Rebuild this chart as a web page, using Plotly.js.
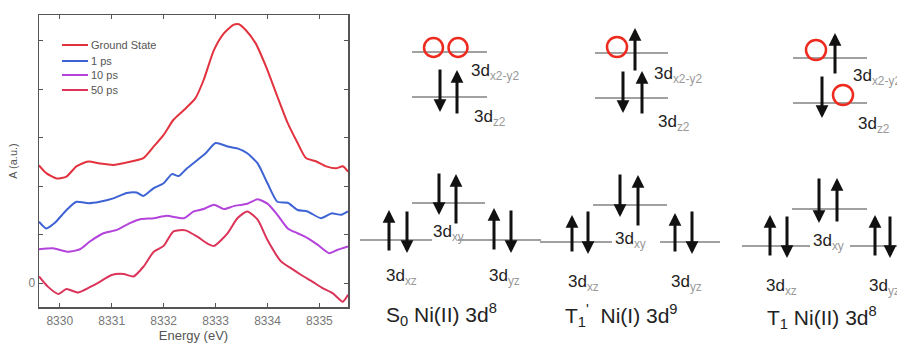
<!DOCTYPE html>
<html>
<head>
<meta charset="utf-8">
<script src="https://cdn.plot.ly/plotly-3.0.1.min.js"></script>
<style>html,body{margin:0;padding:0;background:#fff;}#chart{width:897px;height:344px;}</style>
</head>
<body>
<div id="chart"></div>
<script>
// ---- Spectra data (Energy in eV, absorbance offset, a.u.) ----
const seriesNames = ["Ground State", "1 ps", "10 ps", "50 ps"];
const seriesColors = ["#e2323e", "#3d62d4", "#b443dc", "#dc3458"];

const gsX = [8329.6, 8329.74, 8329.94, 8330.13, 8330.32, 8330.55, 8330.77, 8331.03, 8331.29, 8331.61, 8331.81, 8332.0, 8332.19, 8332.39, 8332.61, 8332.77, 8332.97, 8333.16, 8333.35, 8333.45, 8333.58, 8333.77, 8333.97, 8334.19, 8334.39, 8334.58, 8334.74, 8334.94, 8335.13, 8335.32, 8335.45, 8335.55];
const gsY = [2.43, 2.27, 2.16, 2.20, 2.41, 2.51, 2.47, 2.44, 2.49, 2.58, 2.82, 3.06, 3.37, 3.57, 3.81, 4.19, 4.81, 5.15, 5.33, 5.34, 5.22, 4.95, 4.47, 3.85, 3.30, 2.89, 2.58, 2.51, 2.41, 2.37, 2.41, 2.30];

const ps1X = [8329.6, 8329.74, 8329.9, 8330.13, 8330.32, 8330.55, 8330.77, 8331.03, 8331.29, 8331.48, 8331.61, 8331.81, 8332.0, 8332.16, 8332.29, 8332.45, 8332.65, 8332.81, 8333.0, 8333.23, 8333.42, 8333.61, 8333.81, 8334.0, 8334.19, 8334.39, 8334.58, 8334.77, 8335.03, 8335.23, 8335.42, 8335.55];
const ps1Y = [1.27, 1.13, 1.24, 1.51, 1.68, 1.65, 1.68, 1.75, 1.86, 1.87, 1.80, 1.96, 2.06, 2.25, 2.21, 2.37, 2.54, 2.68, 2.89, 2.82, 2.78, 2.68, 2.47, 2.06, 1.68, 1.66, 1.51, 1.48, 1.34, 1.44, 1.41, 1.48];

const ps10X = [8329.6, 8329.87, 8330.16, 8330.39, 8330.58, 8330.84, 8331.1, 8331.35, 8331.55, 8331.81, 8332.06, 8332.39, 8332.58, 8332.77, 8332.97, 8333.16, 8333.35, 8333.61, 8333.81, 8334.0, 8334.19, 8334.39, 8334.58, 8334.77, 8334.97, 8335.19, 8335.35, 8335.55];
const ps10Y = [0.70, 0.72, 0.65, 0.70, 0.86, 1.03, 1.10, 1.24, 1.32, 1.34, 1.39, 1.34, 1.48, 1.53, 1.62, 1.53, 1.59, 1.64, 1.73, 1.64, 1.41, 1.13, 1.03, 0.93, 0.79, 0.62, 0.69, 0.76];

const ps50X = [8329.6, 8329.77, 8329.97, 8330.13, 8330.35, 8330.58, 8330.77, 8331.0, 8331.23, 8331.42, 8331.61, 8331.81, 8332.0, 8332.19, 8332.42, 8332.65, 8332.84, 8332.97, 8333.23, 8333.42, 8333.61, 8333.81, 8334.0, 8334.26, 8334.45, 8334.65, 8334.87, 8335.06, 8335.26, 8335.45, 8335.55];
const ps50Y = [0.14, -0.07, -0.22, -0.12, -0.19, -0.08, 0.03, 0.17, 0.19, 0.14, 0.34, 0.65, 0.77, 1.07, 1.09, 0.96, 0.82, 0.77, 1.03, 1.34, 1.48, 1.31, 0.89, 0.45, 0.31, 0.17, 0.03, -0.10, -0.21, -0.38, -0.24];

const xTickVals = [8330, 8331, 8332, 8333, 8334, 8335];
const yTickVals = [0, 1, 2, 3, 4, 5];
const yTickText = ["0", "", "", "", "", ""];

// ---- Orbital diagram text ----
const diagramTitles = ["S<sub>0</sub> Ni(II) 3d<sup>8</sup>", "T<sub>1</sub><sup>'</sup>  Ni(I) 3d<sup>9</sup>", "T<sub>1</sub> Ni(II) 3d<sup>8</sup>"];
const orbitalSubs = ["x2-y2", "z2", "xy", "xz", "yz"];

// ---- Diagram geometry (pixel space of the figure) ----
const levels = [
  [412,487,52],[412,487,97],[412,485,203],[360,432,240],[458,541,240],
  [595,668,53],[595,668,98],[593,667,205],[540,612,242],[660,720,242],
  [793,867,58],[793,867,103],[792,867,209],[742,810,246],[850,897,246]
];
const arrows = [ // x, tail y, head y
  [440,68,112],[457,115,70],[439,172,215],[456,225,174],[389,252,210],[407,210,253],[494,251,208],[511,209,253],
  [635,72,28],[623,70,113],[642,115,71],[620,173,217],[638,227,175],[572,253,215],[588,210,254],[675,253,213],[692,210,254],
  [835,75,33],[822,75,118],[819,177,223],[837,223,178],[770,257,215],[787,215,258],[875,257,215],[890,215,258]
];
const holes = [[433.5,47.5,9.5],[458,47.5,9.5],[617,47,10],[816,50,10],[843,95,10]];
const labelPos = [
  [[469,72],[472,118],[431,233],[384,277],[487,277]],
  [[652,75],[656,123],[613,240],[566,283],[669,283]],
  [[851,77],[856,125],[811,242],[764,287],[867,287]]
];
const titlePos = [[384,314],[563,315],[765,317]];

const W = 897, H = 344;
const FONT = "Liberation Sans, Arial, sans-serif";

const traces = [
  {x: gsX, y: gsY}, {x: ps1X, y: ps1Y}, {x: ps10X, y: ps10Y}, {x: ps50X, y: ps50Y}
].map((d, i) => ({
  type: "scatter", mode: "lines", x: d.x, y: d.y, name: seriesNames[i],
  line: {color: seriesColors[i], width: 2, shape: "spline", smoothing: 0.6},
  xaxis: "x", yaxis: "y", showlegend: false
}));
traces.push({type: "scatter", x: [0], y: [0], xaxis: "x2", yaxis: "y2", mode: "markers",
  marker: {opacity: 0}, hoverinfo: "skip", showlegend: false});

const shapes = [];
const annotations = [];

// manual legend (tight spacing like the original)
const legY = [45, 61, 75, 90];
seriesNames.forEach((n, i) => {
  shapes.push({type: "line", xref: "x2", yref: "y2", x0: 62, x1: 88, y0: legY[i], y1: legY[i],
    line: {color: seriesColors[i], width: 2}});
  annotations.push({xref: "x2", yref: "y2", x: 89, y: legY[i], text: n, showarrow: false,
    xanchor: "left", yanchor: "middle", font: {family: FONT, size: 11, color: "#555"}});
});

levels.forEach(l => shapes.push({type: "line", xref: "x2", yref: "y2", x0: l[0], x1: l[1], y0: l[2], y1: l[2],
  line: {color: "#444", width: 1.2}}));
holes.forEach(c => shapes.push({type: "circle", xref: "x2", yref: "y2", x0: c[0]-c[2], x1: c[0]+c[2],
  y0: c[1]-c[2], y1: c[1]+c[2], line: {color: "#ee2a1e", width: 2.5}}));
arrows.forEach(a => annotations.push({xref: "x2", yref: "y2", axref: "x2", ayref: "y2",
  x: a[0], y: a[2], ax: a[0], ay: a[1], text: "", showarrow: true,
  arrowhead: 2, arrowsize: 0.85, arrowwidth: 3, arrowcolor: "#111", standoff: 0, startstandoff: 0}));
labelPos.forEach(d => d.forEach((p, j) => annotations.push({xref: "x2", yref: "y2", x: p[0], y: p[1],
  text: "3d<sub><span style='color:#999'>" + orbitalSubs[j] + "</span></sub>", showarrow: false,
  xanchor: "left", yanchor: "middle", font: {family: FONT, size: 17, color: "#222"}})));
titlePos.forEach((p, i) => annotations.push({xref: "x2", yref: "y2", x: p[0], y: p[1], text: diagramTitles[i],
  showarrow: false, xanchor: "left", yanchor: "middle", font: {family: FONT, size: 21, color: "#222"}}));

const layout = {
  width: W, height: H,
  margin: {l: 0, r: 0, t: 0, b: 0},
  paper_bgcolor: "#fff", plot_bgcolor: "rgba(0,0,0,0)",
  showlegend: false,
  xaxis: {
    domain: [39 / W, 348 / W], range: [8329.6, 8335.55], anchor: "y",
    tickvals: xTickVals, ticks: "inside", ticklen: 4, tickcolor: "#555",
    showline: true, linecolor: "#555", linewidth: 1.5, mirror: "ticks",
    showgrid: false, zeroline: false, ticklabelstandoff: 2,
    tickfont: {family: FONT, size: 12, color: "#777"},
    title: {text: "Energy (eV)", font: {family: FONT, size: 13, color: "#555"}, standoff: 4},
    automargin: false
  },
  yaxis: {
    domain: [1 - 307 / H, 1 - 15 / H], range: [-0.49, 5.53], anchor: "x",
    tickvals: yTickVals, ticktext: yTickText, ticks: "inside", ticklen: 4, tickcolor: "#555",
    showline: true, linecolor: "#555", linewidth: 1.5, mirror: "ticks",
    showgrid: false, zeroline: false,
    tickfont: {family: FONT, size: 12, color: "#777"},
    title: {text: "A (a.u.)", font: {family: FONT, size: 11, color: "#555"}, standoff: 8},
    automargin: false
  },
  xaxis2: {domain: [0, 1], range: [0, W], anchor: "y2", visible: false, fixedrange: true},
  yaxis2: {domain: [0, 1], range: [H, 0], anchor: "x2", visible: false, fixedrange: true},
  shapes: shapes,
  annotations: annotations
};

Plotly.newPlot("chart", traces, layout, {displayModeBar: false, staticPlot: true});
</script>
</body>
</html>
